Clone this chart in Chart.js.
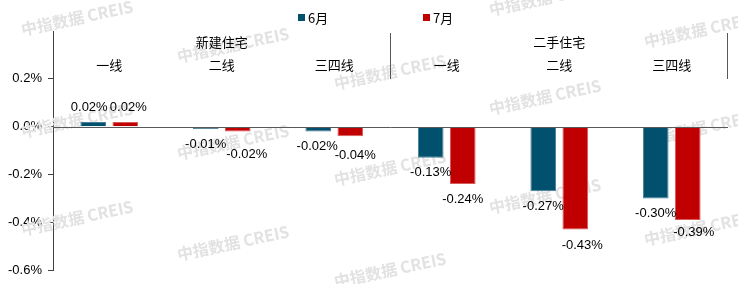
<!DOCTYPE html>
<html>
<head>
<meta charset="utf-8">
<script src="https://cdn.jsdelivr.net/npm/chart.js@4"></script>
<style>
  body { margin: 0; background: #fff; }
  #wrap { width: 738px; height: 284px; position: relative; }
</style>
</head>
<body>
<div id="wrap"><canvas id="myChart"></canvas></div>
<script>
// chart data (percent)
const categories = ['一线', '二线', '三四线', '一线', '二线', '三四线'];
const groups = ['新建住宅', '二手住宅'];
const seriesNames = ['6月', '7月'];
const june = [0.02, -0.01, -0.02, -0.13, -0.27, -0.30];
const july = [0.02, -0.02, -0.04, -0.24, -0.43, -0.39];
const yTicks = [0.4, 0.2, 0.0, -0.2, -0.4, -0.6];

const colors = ['#00506E', '#C00000'];
const edgeColors = ['#4a7f97', '#d85a5a'];
const FONT = '"Liberation Sans", Arial, "Noto Sans CJK SC", sans-serif';
const CJK = '"Noto Sans CJK SC", "Liberation Sans", sans-serif';

// small nudges for data labels that Excel moved to avoid overlap
const labelNudge = {
    '0-0': [-4, 0], '1-0': [3, 0],
    '1-1': [9, 8], '0-2': [-1, 0], '1-2': [5, 4],
    '1-4': [7, 1], '1-5': [6, -3]
};

// watermark spots
const marks = [[77, 18], [233, 45], [390, 72], [545, -2], [700, 30],
               [77, 120], [233, 142], [390, 168], [545, 97], [700, 128],
               [77, 218], [233, 243], [390, 270], [545, 196], [700, 228]];

const watermark = {
    id: 'watermark',
    beforeDatasetsDraw(chart) {
        const ctx = chart.ctx;
        ctx.save();
        ctx.fillStyle = '#e2e2e2';
        ctx.font = 'bold 16px ' + CJK;
        ctx.textAlign = 'center';
        ctx.textBaseline = 'middle';
        marks.forEach(([x, y]) => {
            ctx.save();
            ctx.translate(x, y);
            ctx.rotate(-12 * Math.PI / 180);
            ctx.fillText('中指数据 CREIS', 0, 0);
            ctx.restore();
        });
        ctx.restore();
    }
};

const decorations = {
    id: 'decorations',
    afterDatasetsDraw(chart) {
        const ctx = chart.ctx;
        const x = chart.scales.x;
        const y = chart.scales.y;
        const area = chart.chartArea;
        const step = (area.right - area.left) / categories.length;
        ctx.save();

        // zero line
        const y0 = Math.round(y.getPixelForValue(0)) + 0.5;
        ctx.strokeStyle = '#595959';
        ctx.lineWidth = 1;
        ctx.beginPath();
        ctx.moveTo(area.left, y0);
        ctx.lineTo(area.right, y0);
        ctx.stroke();

        // group separators
        [3, 6].forEach(n => {
            const px = Math.round(area.left + n * step) - 0.5;
            ctx.beginPath();
            ctx.moveTo(px, 33);
            ctx.lineTo(px, 79);
            ctx.stroke();
        });

        // group and category labels
        ctx.fillStyle = '#000';
        ctx.textAlign = 'center';
        ctx.textBaseline = 'middle';
        ctx.font = '13px ' + CJK;
        groups.forEach((g, i) => {
            const cx = (x.getPixelForValue(i * 3) + x.getPixelForValue(i * 3 + 2)) / 2;
            ctx.fillText(g, cx, 42);
        });
        categories.forEach((c, i) => {
            ctx.fillText(c, x.getPixelForValue(i), 65);
        });

        // data labels
        ctx.font = '13px ' + FONT;
        chart.data.datasets.forEach((ds, d) => {
            chart.getDatasetMeta(d).data.forEach((bar, i) => {
                const v = ds.data[i];
                const n = labelNudge[d + '-' + i] || [0, 0];
                const ly = v >= 0 ? bar.y - 14 : bar.y + 15;
                ctx.fillText(v.toFixed(2) + '%', bar.x + n[0], ly + n[1]);
            });
        });

        // legend
        const lx = [298, 423];
        seriesNames.forEach((s, i) => {
            ctx.fillStyle = colors[i];
            ctx.fillRect(lx[i], 14, 7, 7);
            ctx.fillStyle = '#000';
            ctx.textAlign = 'left';
            ctx.font = '13px ' + CJK;
            ctx.fillText(s, lx[i] + 10, 18);
        });
        ctx.restore();
    }
};

const ctx = document.getElementById('myChart').getContext('2d');
const myChart = new Chart(ctx, {
    type: 'bar',
    data: {
        labels: categories,
        datasets: [june, july].map((vals, i) => ({
            label: seriesNames[i],
            data: vals,
            backgroundColor: colors[i],
            borderColor: edgeColors[i],
            borderWidth: 1,
            borderSkipped: 'start',
            barPercentage: 0.8,
            categoryPercentage: 0.57
        }))
    },
    options: {
        responsive: true,
        maintainAspectRatio: false,
        animation: false,
        devicePixelRatio: 1,
        layout: { padding: { top: 31, bottom: 13, left: 0, right: 10 } },
        plugins: {
            legend: { display: false },
            tooltip: { enabled: false }
        },
        scales: {
            x: { display: false },
            y: {
                min: yTicks[yTicks.length - 1],
                max: yTicks[0],
                afterFit: (s) => { s.width = 53; },
                afterBuildTicks: (s) => { s.ticks = yTicks.map(v => ({ value: v })); },
                border: { display: true, color: '#404040', width: 1 },
                grid: {
                    drawOnChartArea: false,
                    tickLength: 5,
                    color: (c) => (c.tick && c.tick.value > 0.3) ? 'rgba(0,0,0,0)' : '#404040'
                },
                ticks: {
                    padding: 6,
                    color: '#000',
                    font: { family: FONT, size: 13 },
                    callback: (v) => v > 0.3 ? '' : (Math.abs(v) < 1e-9 ? '0.0' : v.toFixed(1)) + '%'
                }
            }
        }
    },
    plugins: [watermark, decorations]
});
</script>
</body>
</html>
